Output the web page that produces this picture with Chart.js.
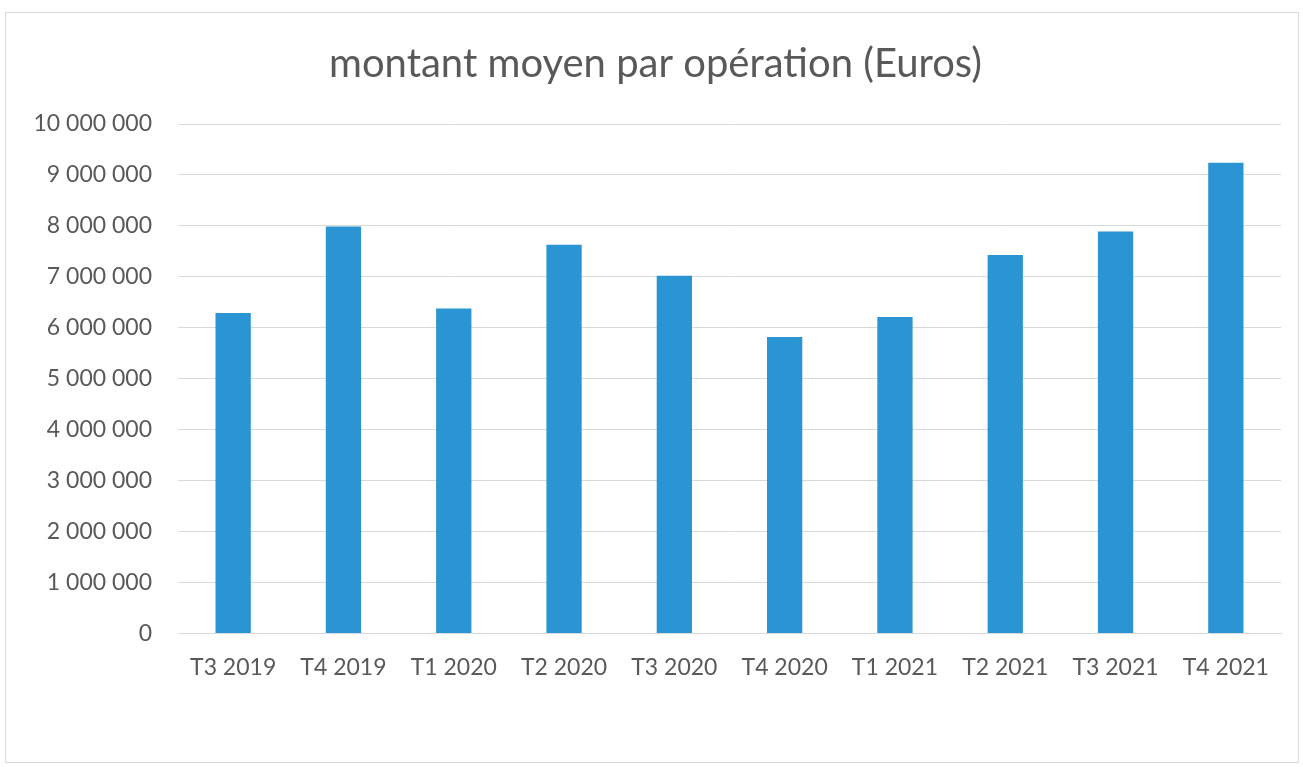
<!DOCTYPE html>
<html>
<head>
<meta charset="utf-8">
<script src="https://cdn.jsdelivr.net/npm/chart.js"></script>
<style>
  body { margin: 0; background: #fff; }
  #box {
    position: absolute; left: 5px; top: 12px;
    width: 1292px; height: 749px;
    border: 1px solid #d9d9d9;
  }
</style>
</head>
<body>
<div id="box"><canvas id="graficoBarras"></canvas></div>
<script>
const labelsTrimestres = ["T3 2019", "T4 2019", "T1 2020", "T2 2020", "T3 2020", "T4 2020", "T1 2021", "T2 2021", "T3 2021", "T4 2021"];
const montantMoyen = [6290000, 7990000, 6380000, 7630000, 7020000, 5820000, 6210000, 7430000, 7890000, 9240000];
const ticksY = [0, 1000000, 2000000, 3000000, 4000000, 5000000, 6000000, 7000000, 8000000, 9000000, 10000000];

const gris = '#595959';
Chart.defaults.font.family = 'Lato, "Open Sans", sans-serif';
Chart.defaults.color = gris;

const dataBarras = {
    labels: labelsTrimestres,
    datasets: [{
        label: "montant moyen",
        data: montantMoyen,
        backgroundColor: '#2B95D3',
        barPercentage: 0.32,
        categoryPercentage: 1
    }]
};

const configBarras = {
    type: 'bar',
    data: dataBarras,
    options: {
        responsive: true,
        maintainAspectRatio: false,
        animation: false,
        layout: { padding: { left: 24, right: 17, top: 20, bottom: 69 } },
        plugins: {
            legend: { display: false },
            tooltip: { enabled: false },
            title: {
                display: true,
                text: "montant moyen par opération (Euros)",
                font: { size: 40, weight: 'normal' },
                color: gris,
                padding: { top: 7, bottom: 36 }
            }
        },
        scales: {
            x: {
                grid: { display: false },
                border: { color: '#d9d9d9' },
                ticks: { font: { size: 23 }, padding: 12, maxRotation: 0 }
            },
            y: {
                min: 0,
                max: ticksY[ticksY.length - 1],
                afterBuildTicks: axis => { axis.ticks = ticksY.map(v => ({ value: v })); },
                afterFit: axis => { axis.width = 148; },
                grid: { color: '#d9d9d9', drawTicks: false },
                border: { display: false },
                ticks: {
                    font: { size: 23 },
                    padding: 26,
                    callback: v => v.toString().replace(/\B(?=(\d{3})+(?!\d))/g, ' ')
                }
            }
        }
    }
};

new Chart(document.querySelector("#graficoBarras"), configBarras);
</script>
</body>
</html>
